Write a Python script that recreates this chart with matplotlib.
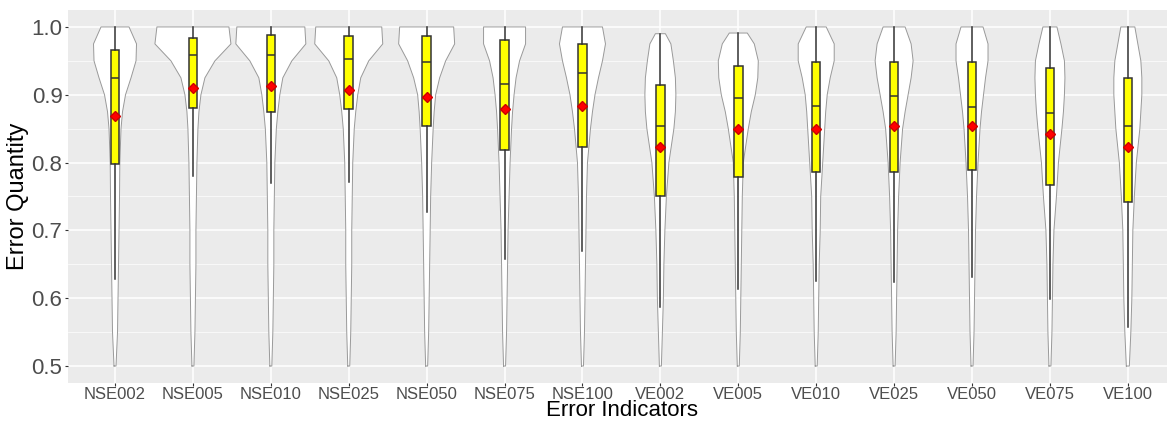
import matplotlib.pyplot as plt
import numpy as np

plt.rcParams["font.family"] = ["Liberation Sans", "DejaVu Sans"]

# categories
indicators = ["NSE002", "NSE005", "NSE010", "NSE025", "NSE050", "NSE075", "NSE100",
              "VE002", "VE005", "VE010", "VE025", "VE050", "VE075", "VE100"]

# box statistics
q1 = [0.798, 0.881, 0.874, 0.879, 0.854, 0.818, 0.823, 0.750, 0.778, 0.786, 0.786, 0.789, 0.767, 0.742]
med = [0.924, 0.959, 0.958, 0.953, 0.948, 0.916, 0.932, 0.854, 0.895, 0.884, 0.898, 0.882, 0.873, 0.854]
q3 = [0.966, 0.983, 0.988, 0.986, 0.987, 0.980, 0.975, 0.914, 0.942, 0.948, 0.948, 0.948, 0.939, 0.925]
whislo = [0.628, 0.780, 0.770, 0.772, 0.727, 0.658, 0.670, 0.587, 0.614, 0.626, 0.624, 0.631, 0.599, 0.558]
whishi = [1.0, 1.0, 1.0, 1.0, 1.0, 1.0, 1.0, 0.990, 0.991, 1.0, 1.0, 1.0, 1.0, 1.0]
means = [0.869, 0.910, 0.913, 0.907, 0.896, 0.879, 0.884, 0.823, 0.850, 0.850, 0.854, 0.854, 0.842, 0.823]

# violin outline: half-widths (px in the reference) at these levels, last level = top of each violin
levels = [0.50, 0.55, 0.60, 0.65, 0.70, 0.75, 0.80, 0.85, 0.875, 0.90, 0.925, 0.95, 0.975]
half_widths = [
    [1, 2.5, 3, 3.5, 4, 4.5, 4.8, 6, 7.5, 10.5, 16, 21, 21.5, 14],
    [1, 2, 2.5, 3, 3, 3.5, 4, 5, 6, 8, 12, 22, 38, 36],
    [1, 2, 2.5, 3, 3, 3.5, 4, 5.5, 7, 9, 12, 21, 35, 34],
    [1, 2, 2.5, 3, 3, 3.5, 4, 5.5, 7, 9, 12, 20, 34, 33],
    [1, 2, 2.5, 3, 3.5, 4, 5, 6.5, 7.5, 9, 13, 19, 28, 27],
    [1, 2, 2.5, 3, 3.5, 4.5, 5.5, 7, 8, 9.5, 11.5, 15, 21, 21],
    [1, 2, 2.5, 3, 3.5, 4, 5, 8, 10, 12.5, 16, 20, 23, 20],
    [1, 2, 3, 3.5, 4.5, 6, 8.5, 13.5, 15, 15.5, 15, 13, 10.5, 5],
    [1, 2, 2.5, 3, 3.5, 4, 5, 10, 13, 17, 19.5, 20, 16, 9],
    [1, 2, 2.5, 3, 4, 4.5, 6.5, 8.5, 9.5, 11, 14, 18, 18, 10],
    [1, 2, 2.5, 3, 3.5, 4.5, 6, 8.5, 11, 14, 17, 19, 17, 11],
    [1, 2, 2.5, 3, 3.5, 4.5, 6, 8, 9.5, 11.5, 13.5, 16, 16, 11],
    [1, 2, 2.5, 3, 4, 6.5, 8.5, 12, 13.5, 14.5, 15, 14.5, 11, 7],
    [1.5, 3, 4, 4.5, 5, 6.5, 8.5, 12, 13, 14, 14, 13, 10, 7],
]

PX_PER_UNIT = 77.9
BG = "#EBEBEB"

fig = plt.figure(figsize=(11.67, 4.21), dpi=100)
ax = fig.add_axes([0.0585, 0.0903, 0.948, 0.886])
ax.set_facecolor(BG)

positions = np.arange(1, len(indicators) + 1)

# violins
for i, pos in enumerate(positions):
    ys = np.array(levels + [whishi[i]])
    w = np.array(half_widths[i]) / PX_PER_UNIT
    ax.fill_betweenx(ys, pos - w, pos + w, facecolor="white", edgecolor="none", zorder=2)
    xs = np.concatenate([pos - w, (pos + w)[::-1], [pos - w[0]]])
    yy = np.concatenate([ys, ys[::-1], [ys[0]]])
    ax.plot(xs, yy, color="#999999", lw=0.7, zorder=3)

# boxplots
stats = []
for i in range(len(indicators)):
    stats.append(dict(q1=q1[i], med=med[i], q3=q3[i], whislo=whislo[i],
                      whishi=whishi[i], mean=means[i], fliers=[]))
ax.bxp(stats, positions=positions, widths=0.11, showcaps=False, showfliers=False,
       showmeans=False, patch_artist=True,
       boxprops=dict(facecolor="#FFFF00", edgecolor="#333333", lw=1.1),
       medianprops=dict(color="#333333", lw=1.1),
       whiskerprops=dict(color="#333333", lw=1.1),
       zorder=4)
ax.plot(positions, means, linestyle="none", marker="D", markersize=5,
        color="#FF0000", markeredgecolor="#CC0000", zorder=5)

ax.set_xlim(0.4, len(indicators) + 0.6)
ax.set_ylim(0.475, 1.025)
ax.set_xticks(positions)
ax.set_xticklabels(indicators, fontsize=12, color="#4D4D4D")
ax.set_yticks([0.5, 0.6, 0.7, 0.8, 0.9, 1.0])
ax.set_yticklabels(["0.5", "0.6", "0.7", "0.8", "0.9", "1.0"], fontsize=16, color="#4D4D4D")
ax.set_yticks([0.55, 0.65, 0.75, 0.85, 0.95], minor=True)
ax.tick_params(axis="both", which="major", length=2.2, color="#333333", pad=2)
ax.tick_params(axis="x", which="major", pad=0.5)
ax.tick_params(axis="y", which="minor", length=0)

ax.grid(True, which="major", color="white", lw=1.1, zorder=0)
ax.grid(True, which="minor", axis="y", color="white", lw=0.5, zorder=0)
ax.set_axisbelow(True)
for sp in ax.spines.values():
    sp.set_visible(False)

# x title sits right at the bottom edge, as in the reference
fig.text(621.5 / 1167, 0.5 / 421, "Error Indicators", fontsize=16, ha="center", va="bottom")
ax.set_ylabel("Error Quantity", fontsize=17, labelpad=2)

fig.savefig("out.png", dpi=100)
